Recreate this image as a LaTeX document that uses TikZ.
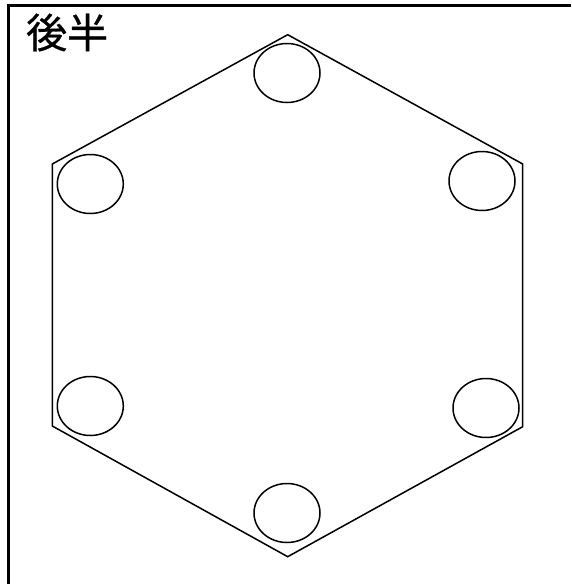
\documentclass[tikz,border=0pt]{standalone}
\usepackage{fontspec}
\newfontfamily\cjk[FakeBold=0.7]{Noto Sans CJK JP}
\usetikzlibrary{shapes.geometric}
\begin{document}
\begin{tikzpicture}[x=1pt,y=-1pt,
  hole/.style={draw,ellipse,line width=1.5pt,minimum width=66pt,minimum height=59pt,inner sep=0pt},
  hexline/.style={line width=1.5pt,line join=miter},
  frameline/.style={line width=3pt},
  title/.style={font=\cjk\fontsize{41}{41}\selectfont,inner sep=0pt,anchor=base west}]
\useasboundingbox (0,0) rectangle (571,584);
\draw[frameline] (8,584) -- (8,5) -- (571,5);
\coordinate (vt) at (287.7,34.7);
\coordinate (vur) at (522.7,164);
\coordinate (vlr) at (522.7,426.7);
\coordinate (vb) at (287.7,556.7);
\coordinate (vll) at (52.3,426);
\coordinate (vul) at (52.3,164);
\draw[hexline] (vt) -- (vur) -- (vlr) -- (vb) -- (vll) -- (vul) -- cycle;
\node[hole] (h1) at (287,73) {};
\node[hole] (h2) at (90.3,184) {};
\node[hole] (h3) at (482,181) {};
\node[hole] (h4) at (90.3,406) {};
\node[hole] (h5) at (486,408) {};
\node[hole] (h6) at (287,513) {};
\node[title] (t) at (26,48) {後半};
\end{tikzpicture}
\end{document}
